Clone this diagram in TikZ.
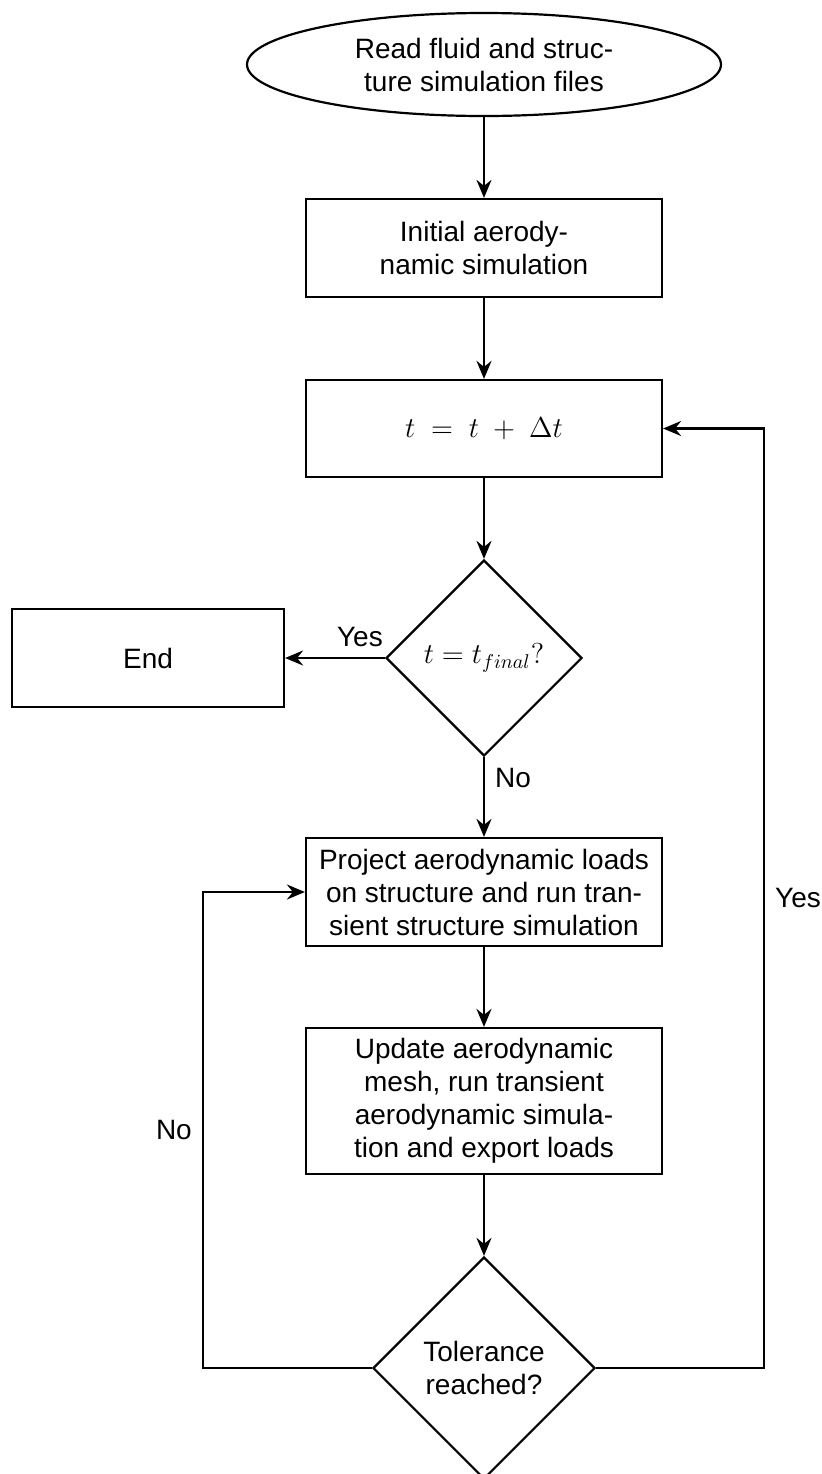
\documentclass[tikz,border=0pt]{standalone}
\usepackage{fontspec}
\setmainfont{Liberation Sans}
\usetikzlibrary{shapes.geometric,arrows.meta}
\begin{document}
\begin{tikzpicture}[x=0.5pt,y=-0.5pt,
  every node/.style={font=\fontsize{14}{16.5}\selectfont},
  box/.style={draw, line width=1.1pt, rectangle, minimum width=178pt, inner sep=0pt, align=center},
  dec/.style={draw, line width=1.1pt, diamond, aspect=1, inner sep=0pt, align=center},
  term/.style={draw, line width=1.1pt, ellipse, minimum width=237pt, minimum height=51.5pt, inner sep=0pt, align=center},
  arr/.style={line width=1.1pt, -{Stealth[length=9pt,width=7.5pt,inset=3pt]}},
  lbl/.style={inner sep=0pt}]
\useasboundingbox (0,0) rectangle (821,1474);
\fill[white] (0,0) rectangle (821,1474);

\node[term] (start) at (484,64.5) {Read fluid and struc-\\ture simulation files};
\node[box, minimum height=49pt] (b1) at (484,248) {Initial aerody-\\namic simulation};
\node[box, minimum height=48.5pt] (b2) at (484,428.5) {$t \ = \ t \ + \ \Delta t$};
\node[dec, minimum width=98pt, minimum height=98pt] (d1) at (484,658) {$t = t_{final}?$};
\node[box, minimum width=136pt, minimum height=49pt] (end) at (148,658) {End};
\node[box, minimum height=54pt] (b3) at (484,892) {Project aerodynamic loads\\on structure and run tran-\\sient structure simulation};
\node[box, minimum height=73pt] (b4) at (484,1101) {Update aerodynamic\\mesh, run transient\\aerodynamic simula-\\tion and export loads};
\node[dec, minimum width=111pt, minimum height=111pt] (d2) at (484,1368) {Tolerance\\reached?};

\draw[arr] (start) -- (b1);
\draw[arr] (b1) -- (b2);
\draw[arr] (b2) -- (d1);
\draw[arr] (d1.west) -- node[lbl, pos=0.25, above=5pt] {Yes} (end.east);
\draw[arr] (d1.south) -- node[lbl, pos=0.26, right=5pt] {No} (b3.north);
\draw[arr] (b3) -- (b4);
\draw[arr] (b4) -- (d2);
\draw[arr] (d2.west) -- ++(-169,0) |- node[lbl, pos=0.25, left=5pt] {No} (b3.west);
\draw[arr] (d2.east) -- ++(168,0) |- node[lbl, pos=0.25, right=5pt] {Yes} (b2.east);
\end{tikzpicture}
\end{document}
